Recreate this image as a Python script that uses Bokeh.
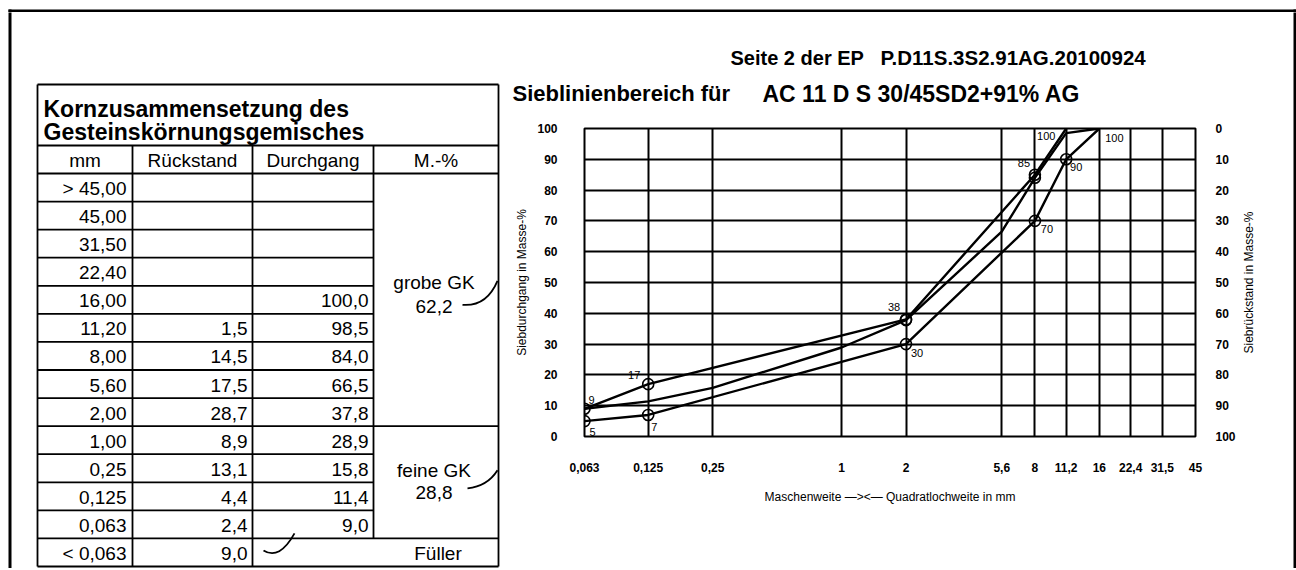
import math
from bokeh.plotting import figure
from bokeh.models import Range1d, LinearAxis, FixedTicker
from bokeh.layouts import row, column
from bokeh.embed import file_html
from bokeh.resources import INLINE
from bokeh.core.properties import value

# ---------------- data ----------------
table_title = ["Kornzusammensetzung des", "Gesteinskörnungsgemisches"]
table_headers = ["mm", "Rückstand", "Durchgang", "M.-%"]
sieve_sizes = ["> 45,00", "45,00", "31,50", "22,40", "16,00", "11,20", "8,00",
               "5,60", "2,00", "1,00", "0,25", "0,125", "0,063", "< 0,063"]
rueckstand = [None, None, None, None, None, 1.5, 14.5, 17.5, 28.7, 8.9, 13.1, 4.4, 2.4, 9.0]
durchgang = [None, None, None, None, 100.0, 98.5, 84.0, 66.5, 37.8, 28.9, 15.8, 11.4, 9.0, None]
group_names = ["grobe GK", "feine GK", "Füller"]
group_values = [62.2, 28.8, None]

page_title = ["Seite 2 der EP", "P.D11S.3S2.91AG.20100924"]
chart_title = ["Sieblinienbereich für", "AC 11 D S 30/45SD2+91% AG"]
x_axis_title = "Maschenweite —><— Quadratlochweite in mm"
y_axis_title = "Siebdurchgang in Masse-%"
y2_axis_title = "Siebrückstand in Masse-%"

sieve_ticks = [0.063, 0.125, 0.25, 1, 2, 5.6, 8, 11.2, 16, 22.4, 31.5, 45]
sieve_tick_labels = ["0,063", "0,125", "0,25", "1", "2", "5,6", "8", "11,2",
                     "16", "22,4", "31,5", "45"]
passing_ticks = [0, 10, 20, 30, 40, 50, 60, 70, 80, 90, 100]
residue_ticks = [0, 10, 20, 30, 40, 50, 60, 70, 80, 90, 100]

upper_x = [0.063, 0.125, 2, 8, 11.2]
upper_y = [9, 17, 38, 85, 100]
lower_x = [0.063, 0.125, 2, 8, 11.2, 16]
lower_y = [5, 7, 30, 70, 90, 100]
mix_x = [0.063, 0.125, 0.25, 1, 2, 5.6, 8, 11.2, 16]
mix_y = [9.0, 11.4, 15.8, 28.9, 37.8, 66.5, 84.0, 98.5, 100.0]

limit_label_x = [0.063, 0.063, 0.125, 0.125, 2, 2, 8, 8, 11.2, 11.2, 16]
limit_label_y = [9, 5, 17, 7, 38, 30, 85, 70, 100, 90, 100]
limit_label_text = ["9", "5", "17", "7", "38", "30", "85", "70", "100", "90", "100"]
mix_marked = [2, 8]          # sieve sizes where the mix curve is circled

# ---------------- helpers / layout ----------------
FONT = "Liberation Sans"
def de(v):
    return "" if v is None else f"{v:.1f}".replace(".", ",")

H = 568            # total page height used
H_TOP = 12         # top strip with the frame's top edge (page y 0..12)
W_T = 505          # table figure width   (page x 0..505)
W_C = 733          # chart column width   (page x 505..1238)
W_R = 58           # right strip          (page x 1238..1296)
H_TITLE = 112      # title strip bottom   (page y 12..112)
BT, BL, BW = 9, 8, 3   # outer frame: top y, left x, thickness
PAGE_W = W_T + W_C + W_R

def page_fig(x0, w, y0, y1):
    h = y1 - y0
    f = figure(width=w, height=h, x_range=Range1d(x0, x0 + w), y_range=Range1d(y1, y0),
               min_border=0, toolbar_location=None, output_backend="svg")
    f.frame_align = False
    f.axis.visible = False
    f.grid.visible = False
    f.outline_line_color = None
    f.background_fill_color = "white"
    f.border_fill_color = "white"
    return f

# ---------------- top strip ----------------
top = page_fig(0, PAGE_W, 0, H_TOP)
top.quad(left=[BL, BL, PAGE_W - BW], right=[PAGE_W + 2, BL + BW, PAGE_W + 2],
         top=[BT, BT, BT], bottom=[BT + BW, H_TOP + 2, H_TOP + 2],
         fill_color="black", line_color=None)

# ---------------- table figure ----------------
tf = page_fig(0, W_T, H_TOP, H)
tf.quad(left=[BL], right=[BL + BW], top=[H_TOP - 2], bottom=[H + 3],
        fill_color="black", line_color=None)

L, C1, C2, C3, R = 37, 132, 252, 373, 498
T_TOP, T_SEP, T_HEAD, T_BOT = 84, 145, 173, 566
n = len(sieve_sizes)
rh = (T_BOT - T_HEAD) / n
def rtop(i):
    return T_HEAD + i * rh
def rmid(i):
    return T_HEAD + (i + 0.5) * rh

group_rows = [(0, 9), (9, 13), (13, 14)]

sx0, sy0, sx1, sy1 = [], [], [], []
def seg(a, b, c, d):
    sx0.append(a); sy0.append(b); sx1.append(c); sy1.append(d)
seg(L, T_TOP, R, T_TOP); seg(L, T_BOT, R, T_BOT)
seg(L, T_TOP, L, T_BOT); seg(R, T_TOP, R, T_BOT)
seg(L, T_SEP, R, T_SEP); seg(L, T_HEAD, R, T_HEAD)
seg(C1, T_SEP, C1, T_BOT); seg(C2, T_SEP, C2, T_BOT)
seg(C3, T_SEP, C3, rtop(group_rows[2][0]))
bounds = [g[0] for g in group_rows[1:]]
for i in range(1, n):
    seg(L, rtop(i), R if i in bounds else C3, rtop(i))
tf.segment(sx0, sy0, sx1, sy1, line_color="black", line_width=1.8)

tf.text(x=[43, 43], y=[108, 131], text=table_title, text_font=value(FONT),
        text_font_size="23px", text_font_style="bold", text_baseline="middle",
        text_color="black")
tf.text(x=[(L + C1) / 2, (C1 + C2) / 2, (C2 + C3) / 2, (C3 + R) / 2],
        y=[(T_SEP + T_HEAD) / 2 + 1] * 4, text=table_headers, text_font=value(FONT),
        text_font_size="19px", text_align="center", text_baseline="middle", text_color="black")

rows_y = [rmid(i) + 1 for i in range(n)]
tf.text(x=[C1 - 6] * n, y=rows_y, text=sieve_sizes, text_font=value(FONT), text_font_size="19px",
        text_align="right", text_baseline="middle", text_color="black")
tf.text(x=[C2 - 5] * n, y=rows_y, text=[de(v) for v in rueckstand], text_font=value(FONT),
        text_font_size="19px", text_align="right", text_baseline="middle", text_color="black")
tf.text(x=[C3 - 5] * n, y=rows_y, text=[de(v) for v in durchgang], text_font=value(FONT),
        text_font_size="19px", text_align="right", text_baseline="middle", text_color="black")

gx = (C3 + R) / 2 - 2
tf.text(x=[gx, gx], y=[rtop(4) - 3, rtop(4) + 21], text=[group_names[0], de(group_values[0])],
        text_font=value(FONT), text_font_size="19px", text_align="center",
        text_baseline="middle", text_color="black")
tf.text(x=[gx, gx], y=[rtop(10) + 16, rtop(11) + 10], text=[group_names[1], de(group_values[1])],
        text_font=value(FONT), text_font_size="19px", text_align="center",
        text_baseline="middle", text_color="black")
tf.text(x=[gx + 4], y=[rmid(13) + 1], text=[group_names[2]], text_font=value(FONT),
        text_font_size="19px", text_align="center", text_baseline="middle", text_color="black")

# hand-drawn tick marks
tf.quadratic(x0=[462, 467, 263], y0=[rtop(4) + 19, rtop(11) + 6, rtop(13) + 12],
             cx=[486, 487, 279], cy=[rtop(4) + 21, rtop(11) + 4, rtop(13) + 22],
             x1=[497, 497, 294], y1=[rtop(4) - 5, rtop(11) - 12, rtop(13) - 5],
             line_color="black", line_width=1.8)

# ---------------- title strip ----------------
tt = page_fig(W_T, W_C, H_TOP, H_TITLE)
tt.text(x=[730, 880], y=[57, 57], text=page_title, text_font=value(FONT),
        text_font_size=["20px", "20.5px"], text_font_style="bold", text_baseline="middle",
        text_color="black")
tt.text(x=[512, 762], y=[93, 93], text=chart_title, text_font=value(FONT),
        text_font_size=["22px", "23px"], text_font_style="bold", text_baseline="middle",
        text_color="black")

# ---------------- right strip (border + right axis title) ----------------
rb = page_fig(W_T + W_C, W_R, H_TOP, H)
rb.quad(left=[PAGE_W - BW], right=[PAGE_W + 3], top=[H_TOP - 2], bottom=[H + 3],
        fill_color="black", line_color=None)
rb.text(x=[1248], y=[282], text=[y2_axis_title], angle=math.pi / 2, text_font=value(FONT),
        text_font_size="12px", text_align="center", text_baseline="middle", text_color="black")

# ---------------- chart figure ----------------
cf = figure(width=W_C, height=H - H_TITLE, x_axis_type="log", x_range=Range1d(0.063, 45),
            y_range=Range1d(0, 100), min_border_left=79, min_border_right=41,
            min_border_top=16, min_border_bottom=132, toolbar_location=None,
            output_backend="svg")
cf.frame_align = False
cf.background_fill_color = "white"
cf.border_fill_color = "white"
cf.outline_line_color = "black"
cf.outline_line_width = 2
cf.outline_line_alpha = 1

xa = cf.xaxis[0]
xa.ticker = FixedTicker(ticks=sieve_ticks, minor_ticks=[])
xa.major_label_overrides = dict(zip(sieve_ticks, sieve_tick_labels))
xa.axis_label = x_axis_title
xa.major_label_standoff = 20
xa.axis_label_standoff = 15

ya = cf.yaxis[0]
ya.ticker = FixedTicker(ticks=passing_ticks, minor_ticks=[])
ya.axis_label = y_axis_title
ya.major_label_standoff = 21
ya.axis_label_standoff = 5

cf.extra_y_ranges = {"rest": Range1d(100, 0)}
ra = LinearAxis(y_range_name="rest", ticker=FixedTicker(ticks=residue_ticks, minor_ticks=[]))
ra.major_label_standoff = 14
cf.add_layout(ra, "right")

for ax in (xa, ya, ra):
    ax.axis_line_color = None
    ax.major_tick_line_color = None
    ax.minor_tick_line_color = None
    ax.major_label_text_font = FONT
    ax.major_label_text_font_size = "12px"
    ax.major_label_text_font_style = "bold"
    ax.major_label_text_color = "black"
    ax.axis_label_text_font = FONT
    ax.axis_label_text_font_size = "12px"
    ax.axis_label_text_font_style = "normal"
    ax.axis_label_text_color = "black"

cf.xgrid.grid_line_color = "black"
cf.xgrid.grid_line_width = 2
cf.xgrid.grid_line_alpha = 1
cf.ygrid.grid_line_color = "black"
cf.ygrid.grid_line_width = 2
cf.ygrid.grid_line_alpha = 1

for xs, ys in ((upper_x, upper_y), (lower_x, lower_y), (mix_x, mix_y)):
    cf.line(xs, ys, line_color="black", line_width=2.4)

mk_x = list(limit_label_x) + [x for x in mix_x if x in mix_marked]
mk_y = list(limit_label_y) + [y for x, y in zip(mix_x, mix_y) if x in mix_marked]
keep = [i for i in range(len(mk_x)) if mk_y[i] != 100]
cf.scatter([mk_x[i] for i in keep], [mk_y[i] for i in keep], marker="circle", size=11,
           fill_color=None, line_color="black", line_width=1.6)

off_x = [7, 8, -14, 6, -12, 11, -11, 12, -20, 10, 15]
off_y = [-9, 11, -9, 12, -12, 9, -12, 8, 7, 8, 9]
cf.text(x=limit_label_x, y=limit_label_y, text=limit_label_text, x_offset=off_x, y_offset=off_y,
        text_font=value(FONT), text_font_size="11px", text_align="center",
        text_baseline="middle", text_color="black")

layout = column(top, row(tf, column(tt, cf), rb))

with open("out.html", "w") as f:
    f.write(file_html(layout, INLINE))
